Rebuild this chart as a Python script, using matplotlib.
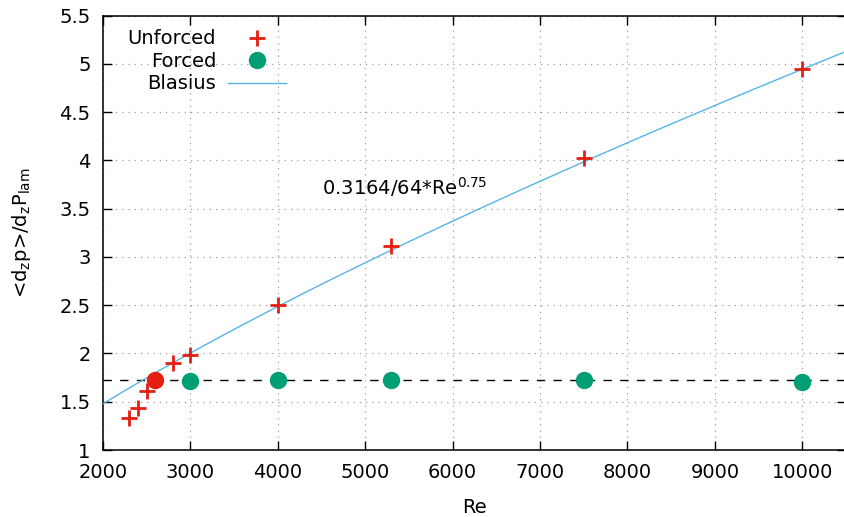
import numpy as np
import matplotlib
matplotlib.use('Agg')
import matplotlib.pyplot as plt
from matplotlib.ticker import FuncFormatter

plt.rcParams['font.family'] = 'DejaVu Sans'
plt.rcParams['mathtext.default'] = 'regular'

# data
re_unforced = [2300, 2400, 2500, 2800, 3000, 4000, 5300, 7500, 10000]
dp_unforced = [1.33, 1.44, 1.61, 1.90, 1.98, 2.50, 3.11, 4.02, 4.95]
re_forced = [3000, 4000, 5300, 7500, 10000]
dp_forced = [1.71, 1.72, 1.72, 1.73, 1.70]
re_highlight = [2600]
dp_highlight = [1.72]
dp_level = 1.72

# Blasius correlation, normalised by laminar value
blasius_coef = 0.3164 / 64
blasius_exp = 0.75
re_curve = np.linspace(2000, 10500, 300)
dp_curve = blasius_coef * re_curve ** blasius_exp

red = '#e51e10'
green = '#009e73'
blue = '#56b4e9'
fs = 14

fig = plt.figure(figsize=(8.44, 5.17), dpi=100)
ax = fig.add_axes([103 / 844, 67 / 517, 743 / 844, 434.5 / 517])

ax.axhline(dp_level, color='black', linestyle=(0, (6, 6)), linewidth=1.0, zorder=2)
ax.plot(re_curve, dp_curve, color=blue, linewidth=1.0, label='Blasius', zorder=3)
ax.plot(re_unforced, dp_unforced, linestyle='none', marker='+', markersize=11,
        markeredgewidth=2, color=red, label='Unforced', zorder=4)
ax.plot(re_forced, dp_forced, linestyle='none', marker='o', markersize=11.5,
        color=green, label='Forced', zorder=4)
ax.plot(re_highlight, dp_highlight, linestyle='none', marker='o', markersize=11.5,
        color=red, zorder=5)

ax.text(4500, 3.72, r'0.3164/64*Re$^{0.75}$', fontsize=fs, va='center', ha='left')

ax.set_xlim(2000, 10500)
ax.set_ylim(1, 5.5)
ax.set_xticks(np.arange(2000, 10001, 1000))
ax.set_yticks(np.arange(1, 5.51, 0.5))
ax.yaxis.set_major_formatter(FuncFormatter(lambda v, p: f'{v:g}'))
ax.tick_params(direction='in', top=True, right=True, length=6.5, width=1,
               labelsize=fs, pad=9)
ax.grid(True, color='#a0a0a0', linestyle=(0, (1, 4)), linewidth=0.9)
for s in ax.spines.values():
    s.set_linewidth(1.1)

ax.set_xlabel('Re', fontsize=fs, labelpad=12)
ax.set_ylabel(r'<d$_z$p>/d$_z$P$_{lam}$', fontsize=fs, labelpad=19)

h, l = ax.get_legend_handles_labels()
order = [1, 2, 0]
leg = ax.legend([h[i] for i in order], [l[i] for i in order], loc='upper left',
                frameon=False, markerfirst=False, fontsize=fs, handlelength=3.0,
                handletextpad=0.6, labelspacing=0.18, borderaxespad=0,
                borderpad=0, bbox_to_anchor=(0.033, 0.968))
for t in leg.get_texts():
    t.set_ha('right')

fig.savefig('out.png', dpi=100)
